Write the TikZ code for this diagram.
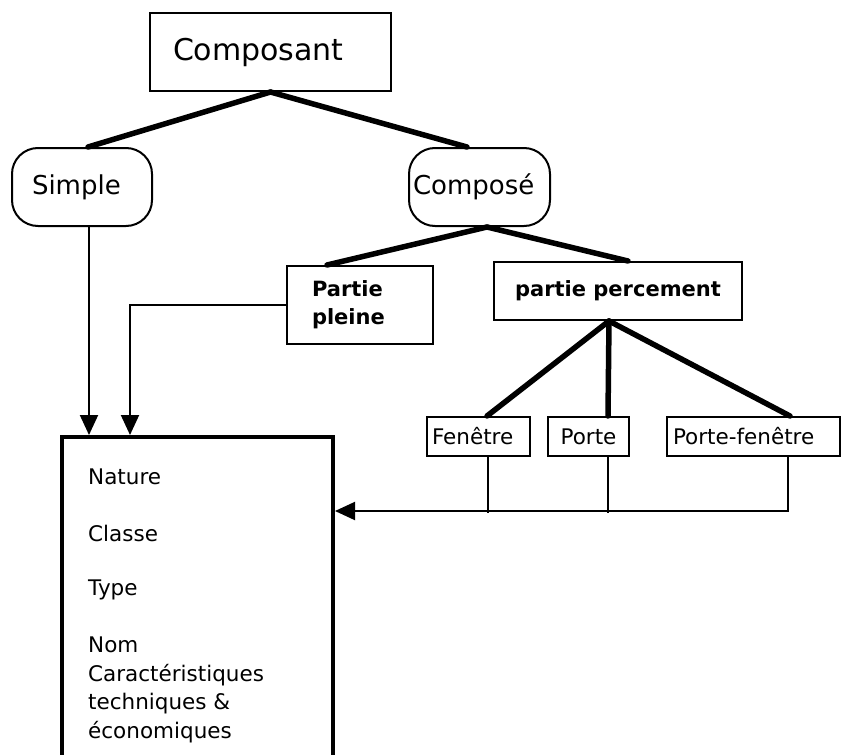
\documentclass[tikz,border=0pt]{standalone}
\usepackage{fontspec}
\setmainfont{DejaVu Sans}
\usetikzlibrary{arrows.meta, positioning}

\tikzset{
  boite/.style={draw, line width=2pt, inner sep=0pt},
  bulle/.style={boite, rounded corners=26pt},
  branche/.style={line width=5.5pt, line cap=round},
  lien/.style={line width=2pt},
  fleche/.style={lien, -{Triangle[length=20pt, width=18pt]}},
  grand/.style={font=\fontsize{26}{30}\selectfont},
  petit/.style={font=\fontsize{21.5}{28.7}\selectfont},
  gras/.style={font=\fontsize{21}{28}\selectfont\bfseries},
}

\begin{document}
\begin{tikzpicture}[x=1pt, y=-1pt]
  \useasboundingbox (0,0) rectangle (841,755);

  % hierarchy of components
  \node[boite, minimum width=241pt, minimum height=78pt, font=\fontsize{30}{34}\selectfont, text width=195pt, align=left] (composant) at (270.5,52) {Composant};
  \node[bulle, grand, minimum width=140pt, minimum height=78pt, text width=100pt, align=left] (simple) at (82,187) {Simple};
  \node[bulle, grand, minimum width=141pt, minimum height=78pt, text width=133pt, align=left] (compose) at (479.5,187) {Composé};
  \node[boite, gras, minimum width=146pt, minimum height=78pt, text width=96pt, align=left] (pleine) at (360,305) {Partie\\pleine};
  \node[boite, gras, minimum width=248pt, minimum height=58pt] (percement) at (618,291) {partie percement};
  \node[boite, petit, minimum width=103pt, minimum height=39pt, text width=93pt, align=left] (fenetre) at (478.5,436.5) {Fenêtre};
  \node[boite, petit, minimum width=81pt, minimum height=39pt] (porte) at (588.5,436.5) {Porte};
  \node[boite, petit, minimum width=173pt, minimum height=39pt, text width=161pt, align=left] (portefenetre) at (753.5,436.5) {Porte-fenêtre};

  % attribute sheet (open at the bottom of the page)
  \node[draw, line width=4pt, inner sep=0pt, minimum width=271pt, minimum height=343pt] (fiche) at (197.5,608.5) {};
  \node[petit, anchor=west, inner sep=0pt] (nature) at (88,477) {Nature};
  \node[petit, anchor=west, inner sep=0pt] (classe) at (88,533) {Classe};
  \node[petit, anchor=west, inner sep=0pt] (type) at (88,590) {Type};
  \node[petit, anchor=west, inner sep=0pt, align=left] (nom) at (88,690) {Nom\\Caractéristiques\\techniques \&\\économiques};

  % thick tree branches
  \draw[branche] (composant.south) -- ([xshift=6pt]simple.north);
  \draw[branche] (composant.south) -- ([xshift=-12.5pt]compose.north);
  \draw[branche] ([xshift=7.5pt]compose.south) -- ([xshift=-33pt]pleine.north);
  \draw[branche] ([xshift=7.5pt]compose.south) -- ([xshift=10pt]percement.north);
  \draw[branche] ([xshift=-9pt]percement.south) -- ([xshift=8.5pt]fenetre.north);
  \draw[branche] ([xshift=-9pt]percement.south) -- ([xshift=19.5pt]porte.north);
  \draw[branche] ([xshift=-9pt]percement.south) -- ([xshift=36.5pt]portefenetre.north);

  % links to the sheet
  \draw[fleche] ([xshift=7pt]simple.south) -- ([xshift=-108.5pt]fiche.north);
  \draw[fleche] (pleine.west) -| ([xshift=-67.5pt]fiche.north);
  \draw[lien] ([xshift=9.5pt]fenetre.south) -- ++(0,56);
  \draw[lien] ([xshift=19.5pt]porte.south) -- ++(0,56);
  \draw[fleche] ([xshift=34.5pt]portefenetre.south) |- ([yshift=-76pt]fiche.north east);
\end{tikzpicture}
\end{document}
